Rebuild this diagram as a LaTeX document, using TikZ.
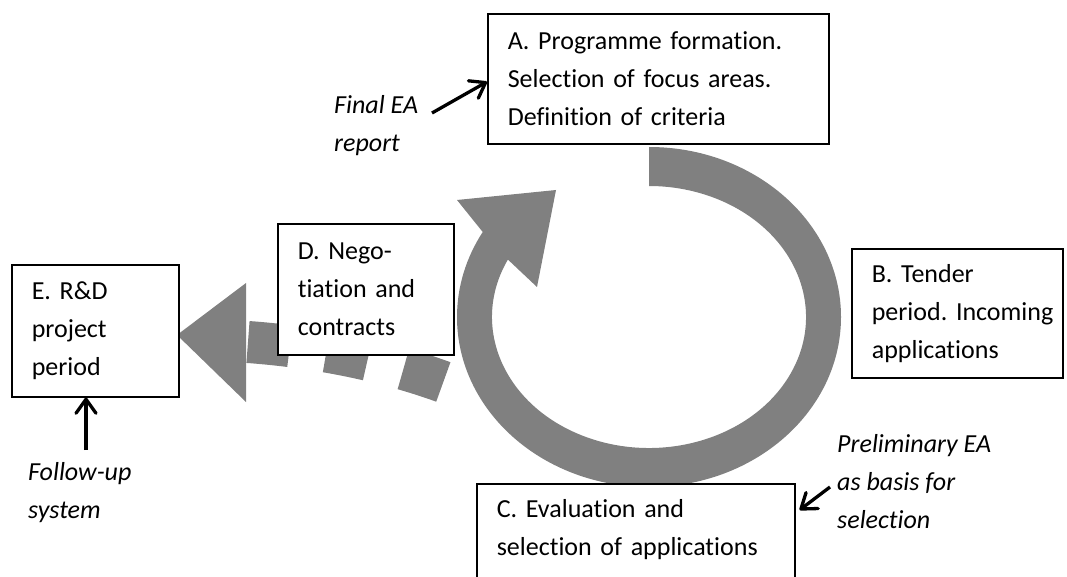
\documentclass[tikz,border=0pt]{standalone}
\usepackage{fontspec}
\setmainfont{Carlito}[Ligatures=NoCommon,RawFeature={-calt}]
\usepackage{tikz}
\usetikzlibrary{arrows.meta,positioning}
\definecolor{cyclegray}{RGB}{128,128,128}
\frenchspacing

\begin{document}
\begin{tikzpicture}[
    x=1pt,y=1pt,
    box/.style={draw,line width=1.6pt,fill=white,anchor=north west,align=left,inner xsep=20pt,inner ysep=4pt,font=\fontsize{26}{38}\selectfont},
    note/.style={anchor=north west,align=left,inner sep=0pt,font=\fontsize{26}{38}\selectfont\itshape},
    pointer/.style={line width=3.3pt,-{Straight Barb[length=14pt,width=20pt,round]}}
]
\useasboundingbox (0,0) rectangle (1067,576);
% dashed branch from the cycle to E
\coordinate (branchtip) at (177,241);
\coordinate (branchbase) at (248,234);
\coordinate (branchroot) at (476,181);
\fill[cyclegray] (branchtip) -- (246,293) -- (246,174) -- cycle;
\draw[cyclegray,line width=42pt,dash pattern=on 42pt off 37pt]
    (branchbase) .. controls (330,228) and (410,210) .. (branchroot);
% the cycle
\coordinate (ringc) at (649,259);
\fill[cyclegray] ([shift={(ringc)}]90:192 and 170) arc[start angle=90,end angle=-210,x radius=192,y radius=170]
    -- (457,376) -- (556,386) -- (537,289)
    -- ([shift={(ringc)}]-206:157 and 131) arc[start angle=-206,end angle=90,x radius=157,y radius=131] -- cycle;
% phases
\node[box,text width=301pt,minimum height=130pt] (A) at (487,563) {A. Programme formation.\\Selection of focus areas.\\Definition of criteria};
\node[box,text width=171pt,minimum height=129pt] (B) at (851,328) {B. Tender\\\mbox{period. Incoming}\\applications};
\node[box,text width=278pt,inner ysep=16pt] (C) at (476,93) {C. Evaluation and\\selection of applications\rule[-24pt]{0pt}{0pt}};
\node[box,text width=136pt,minimum height=131pt] (D) at (277,353) {D. Nego-\\tiation and\\contracts};
\node[box,text width=127pt,minimum height=132pt] (E) at (11,312) {E. R\&D\\project\\period};
% evaluation inputs
\node[note] (finalea) at (334,481) {Final EA\\report};
\node[note] (followup) at (28,114) {Follow-up\\system};
\node[note] (prelim) at (837,142) {Preliminary EA\\as basis for\\selection};
\coordinate (finaltail) at (432,463);
\coordinate (followtail) at (86,126);
\coordinate (prelimtail) at (830,89);
\draw[pointer] (finaltail) -- ([yshift=-3pt]A.west);
\draw[pointer] (followtail) -- (followtail |- E.south);
\draw[pointer] (prelimtail) -- ([xshift=4pt,yshift=-27pt]C.north east);
\end{tikzpicture}
\end{document}
